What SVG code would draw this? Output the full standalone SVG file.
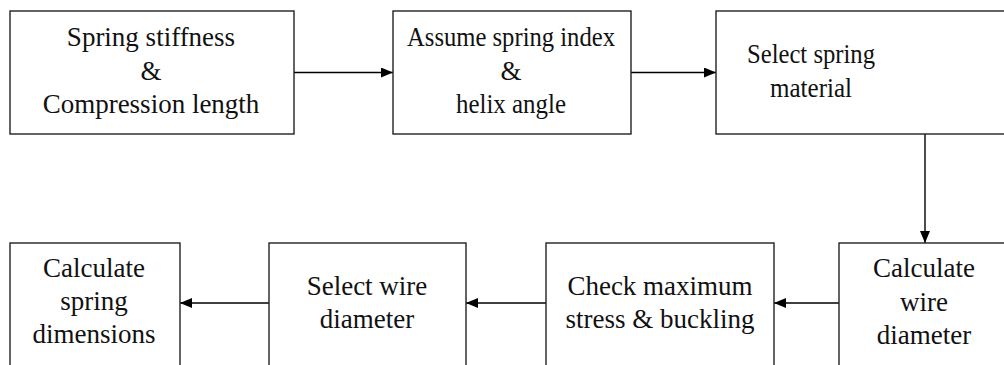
<svg xmlns="http://www.w3.org/2000/svg" width="1004" height="365" viewBox="0 0 1004 365">
  <defs>
    <marker id="arrow" markerWidth="12" markerHeight="10" refX="12" refY="5" orient="auto" markerUnits="userSpaceOnUse">
      <path d="M0,0 L12,5 L0,10 Z" fill="#000"/>
    </marker>
    <style>
      .box { fill: #fff; stroke: #222; stroke-width: 1.4; }
      .lbl { font-family: 'Liberation Serif', 'DejaVu Serif', serif; font-size: 27px; fill: #111; text-anchor: middle; }
      .conn { stroke: #000; stroke-width: 1.4; fill: none; marker-end: url(#arrow); }
    </style>
  </defs>
  <rect width="1004" height="365" fill="#fff"/>

  <g id="connectors">
    <line class="conn" x1="294" y1="72.5" x2="393" y2="72.5"/>
    <line class="conn" x1="631" y1="72.5" x2="716" y2="72.5"/>
    <line class="conn" x1="925" y1="134" x2="925" y2="243"/>
    <line class="conn" x1="839" y1="303" x2="774" y2="303"/>
    <line class="conn" x1="546" y1="303" x2="466" y2="303"/>
    <line class="conn" x1="269" y1="303" x2="180" y2="303"/>
  </g>

  <g id="spring-stiffness">
    <rect class="box" x="10" y="11" width="284" height="123"/>
    <text class="lbl" x="151" y="46">Spring stiffness</text>
    <text class="lbl" x="151" y="80">&amp;</text>
    <text class="lbl" x="151" y="113">Compression length</text>
  </g>

  <g id="assume-index">
    <rect class="box" x="393" y="11" width="238" height="123"/>
    <text class="lbl" x="511" y="46" textLength="208" lengthAdjust="spacingAndGlyphs">Assume spring index</text>
    <text class="lbl" x="511" y="80">&amp;</text>
    <text class="lbl" x="511" y="113" textLength="110" lengthAdjust="spacingAndGlyphs">helix angle</text>
  </g>

  <g id="select-material">
    <rect class="box" x="716" y="11" width="300" height="123"/>
    <text class="lbl" x="811" y="63" textLength="128" lengthAdjust="spacingAndGlyphs">Select spring</text>
    <text class="lbl" x="811" y="97" textLength="82" lengthAdjust="spacingAndGlyphs">material</text>
  </g>

  <g id="calc-wire">
    <rect class="box" x="839" y="243" width="180" height="140"/>
    <text class="lbl" x="924" y="277">Calculate</text>
    <text class="lbl" x="924" y="311">wire</text>
    <text class="lbl" x="924" y="344">diameter</text>
  </g>

  <g id="check-stress">
    <rect class="box" x="546" y="243" width="228" height="140"/>
    <text class="lbl" x="660" y="295">Check maximum</text>
    <text class="lbl" x="660" y="328">stress &amp; buckling</text>
  </g>

  <g id="select-wire">
    <rect class="box" x="269" y="243" width="197" height="140"/>
    <text class="lbl" x="367" y="295">Select wire</text>
    <text class="lbl" x="367" y="328">diameter</text>
  </g>

  <g id="calc-dimensions">
    <rect class="box" x="10" y="243" width="170" height="140"/>
    <text class="lbl" x="94" y="277">Calculate</text>
    <text class="lbl" x="94" y="310">spring</text>
    <text class="lbl" x="94" y="343">dimensions</text>
  </g>
</svg>
